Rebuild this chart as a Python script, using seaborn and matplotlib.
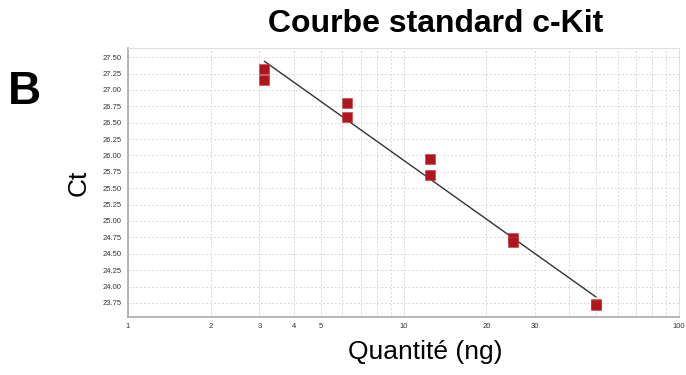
import numpy as np
import pandas as pd
import matplotlib
matplotlib.use("Agg")
import matplotlib.pyplot as plt
import seaborn as sns
from matplotlib.ticker import FixedLocator, FixedFormatter, LogLocator, NullFormatter

# Data
quantite = [3.125, 3.125, 6.25, 6.25, 12.5, 12.5, 25, 25, 50, 50]
ct = [27.32, 27.15, 26.80, 26.59, 25.945, 25.70, 24.74, 24.68, 23.74, 23.72]
xtick_vals = [1, 2, 3, 4, 5, 10, 20, 30, 100]
xtick_labels = ["1", "2", "3", "4", "5", "10", "20", "30", "100"]
ytick_vals = [23.75, 24.00, 24.25, 24.50, 24.75, 25.00, 25.25, 25.50,
              25.75, 26.00, 26.25, 26.50, 26.75, 27.00, 27.25, 27.50]

df = pd.DataFrame({"Quantite": quantite, "Ct": ct})

sns.set_style("white")
plt.rcParams['font.family'] = ['Liberation Sans', 'DejaVu Sans']

fig = plt.figure(figsize=(6.86, 3.75), dpi=100)
ax = fig.add_axes([0.1866, 0.1547, 0.8032, 0.7173])
ax.set_xscale("log")

# Fit line (Ct vs log10 quantity)
lx = np.log10(df["Quantite"].values)
slope, intercept = np.polyfit(lx, df["Ct"].values, 1)
xs = np.array([min(quantite), max(quantite)])
ys = slope * np.log10(xs) + intercept
ax.plot(xs, ys, color="#333333", lw=1.0, zorder=3)

sns.scatterplot(data=df, x="Quantite", y="Ct", marker="s", s=42,
                color="#b0141c", edgecolor="#c04040", linewidth=0.4,
                ax=ax, zorder=4, legend=False)

ax.set_xlim(1, 100)
ax.set_ylim(23.535, 27.64)

ax.xaxis.set_major_locator(FixedLocator(xtick_vals))
ax.xaxis.set_major_formatter(FixedFormatter(xtick_labels))
ax.xaxis.set_minor_locator(LogLocator(base=10, subs=np.arange(2, 10)))
ax.xaxis.set_minor_formatter(NullFormatter())
ax.yaxis.set_major_locator(FixedLocator(ytick_vals))
ax.set_yticklabels([f"{v:.2f}" for v in ytick_vals])

ax.grid(True, which="both", axis="x", color="#d8d8d8", linestyle=(0, (2, 2)), lw=0.7)
ax.grid(True, which="major", axis="y", color="#d8d8d8", linestyle=(0, (2, 2)), lw=0.7)

ax.tick_params(axis="both", which="major", labelsize=5.5, labelcolor="#333333",
               length=2.5, width=0.6, color="#999999", pad=2)
ax.tick_params(axis="x", which="minor", length=0)

for side in ["left", "bottom"]:
    ax.spines[side].set_color("#aaaaaa")
    ax.spines[side].set_linewidth(1.2)
for side in ["top", "right"]:
    ax.spines[side].set_color("#e0e0e0")
    ax.spines[side].set_linewidth(0.8)

ax.set_xlabel("")
ax.set_ylabel("")

fig.text(436/686, 1 - 24/375, "Courbe standard c-Kit", ha="center", va="center",
         fontsize=23, fontweight="bold", color="black")
fig.text(24/686, 1 - 92/375, "B", ha="center", va="center",
         fontsize=33, fontweight="bold", color="black")
fig.text(79/686, 1 - 183/375, "Ct", ha="center", va="center", rotation=90,
         fontsize=19, color="black")
fig.text(425/686, 1 - 352/375, "Quantité (ng)", ha="center", va="center",
         fontsize=19, color="black")

fig.savefig("out.png", dpi=100)
